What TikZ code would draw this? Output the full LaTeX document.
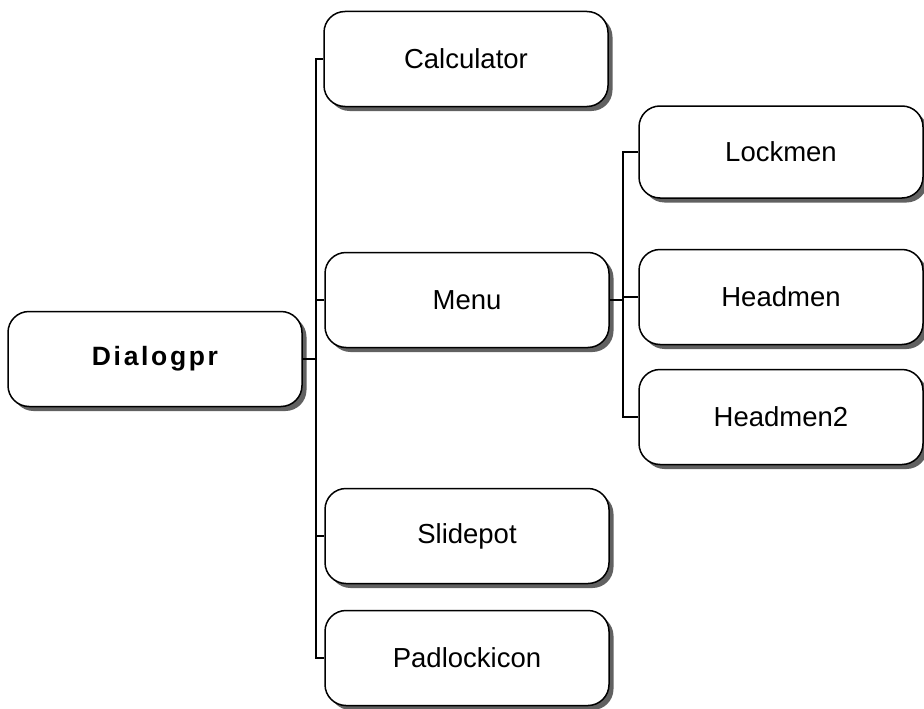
\documentclass[tikz,border=0pt]{standalone}
\usepackage{fontspec}
\setmainfont{Liberation Sans}
\newfontfamily\spacedfont[LetterSpace=10]{Liberation Sans}
\usetikzlibrary{shadows}

\begin{document}
\begin{tikzpicture}[x=1pt,y=-1pt,
	modbox/.style={draw, line width=1.5pt, rounded corners=21pt, fill=white,
		minimum width=284pt, minimum height=95pt, inner sep=0pt,
		font=\fontsize{27.5}{31}\selectfont,
		drop shadow={shadow xshift=4.5pt, shadow yshift=-4.5pt, fill=black!62, opacity=1}},
	wire/.style={line width=1.5pt}]
			\useasboundingbox (0,0) rectangle (924,709);
			\def\busa{316};
			\def\busb{623};
			
			\node[modbox, minimum width=294pt, font=\spacedfont\bfseries\fontsize{26.5}{30}\selectfont] (dlg) at (155,359) {Dialogpr};
			
			\node[modbox] (calc) at (466,59) {Calculator};
			\node[modbox] (menu) at (467,300) {Menu};
			\node[modbox] (slide) at (467,536) {Slidepot};
			\node[modbox] (pad) at (467,658) {Padlockicon};
			
			\node[modbox, minimum height=92pt] (lock) at (781,152) {Lockmen};
			\node[modbox] (head) at (781,297) {Headmen};
			\node[modbox] (head2) at (781,417) {Headmen2};
			
			% first level
			\coordinate (fork) at (\busa,359);
			\draw[wire] (dlg.east) -- (fork);
			\foreach \n in {calc,menu,slide,pad}
				\draw[wire] (fork) |- (\n.west);
			
			% second level
			\coordinate (subfork) at (\busb,300);
			\draw[wire] (menu.east) -- (subfork);
			\foreach \n in {lock,head,head2}
				\draw[wire] (subfork) |- (\n.west);
\end{tikzpicture}
\end{document}
